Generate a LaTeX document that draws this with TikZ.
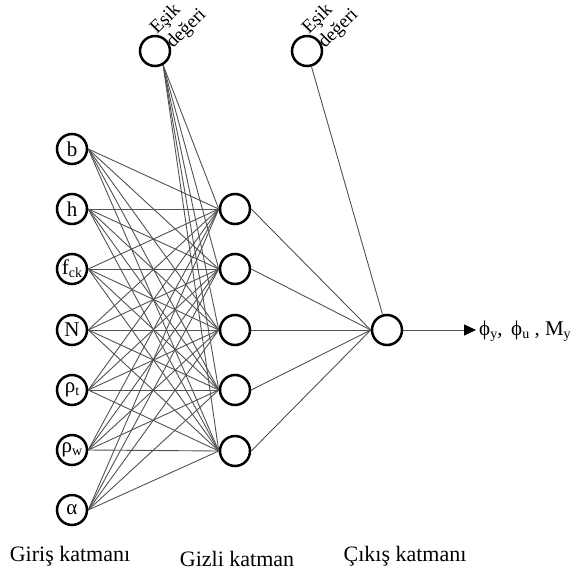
\documentclass[tikz,border=0pt]{standalone}
\usepackage{fontspec}
\setmainfont{Liberation Serif}
\usetikzlibrary{arrows.meta}
\newcommand\lowsub[1]{\raisebox{-0.3ex}{\fontsize{14}{14}\selectfont #1}}
\begin{document}
\begin{tikzpicture}[x=1pt,y=-1pt,
  neuron/.style={circle,draw=black,line width=2.5pt,minimum size=30pt,inner sep=0pt,font=\fontsize{21}{21}\selectfont},
  link/.style={draw=black!68,line width=0.9pt},
  layerlabel/.style={font=\fontsize{22}{22}\selectfont,anchor=base},
  biaslabel/.style={font=\fontsize{19}{19}\selectfont,rotate=45,anchor=base west,inner sep=0pt},
  outlabel/.style={font=\fontsize{21}{21}\selectfont,anchor=west,inner sep=0pt}]
\useasboundingbox (0,0) rectangle (577,572);
% input layer
\node[neuron] (i1) at (72,149) {b};
\node[neuron] (i2) at (72,209) {h};
\node[neuron] (i3) at (72,269) {f\lowsub{ck}};
\node[neuron] (i4) at (72,330) {N};
\node[neuron] (i5) at (72,390) {ρ\lowsub{t}};
\node[neuron] (i6) at (72,450) {ρ\lowsub{w}};
\node[neuron] (i7) at (72,510) {α};
% hidden layer
\node[neuron] (h1) at (235,209) {};
\node[neuron] (h2) at (235,269) {};
\node[neuron] (h3) at (235,330) {};
\node[neuron] (h4) at (235,390) {};
\node[neuron] (h5) at (235,451) {};
% output
\node[neuron] (o) at (387,330) {};
% biases
\node[neuron] (b1) at (155,51) {};
\node[neuron] (b2) at (307,51) {};
\node[biaslabel] (b1t1) at (157,35) {Eşik};
\node[biaslabel] (b1t2) at (173,49) {değeri};
\node[biaslabel] (b2t1) at (309,35) {Eşik};
\node[biaslabel] (b2t2) at (325,49) {değeri};
% connections
\foreach \i in {1,...,7}{
  \foreach \j in {1,...,5}{
    \draw[link] (i\i.east) -- (h\j.west);
  }
}
\foreach \j in {1,...,5}{
  \draw[link] (b1.300) -- (h\j.west);
  \draw[link] (h\j.east) -- (o.west);
}
\draw[link] (b2) -- (o);
\coordinate (arrowend) at (476,330);
\draw[link,-{Triangle[length=12pt,width=11pt,color=black]}] (o.east) -- (arrowend);
\node[outlabel] (res) at (479,331) {ϕ\lowsub{y}, \,ϕ\lowsub{u} , M\lowsub{y}};
% layer labels
\node[layerlabel] (l1) at (70,561) {Giriş katmanı};
\node[layerlabel] (l2) at (237,566) {Gizli katman};
\node[layerlabel] (l3) at (405,561) {Çıkış katmanı};
\end{tikzpicture}
\end{document}
